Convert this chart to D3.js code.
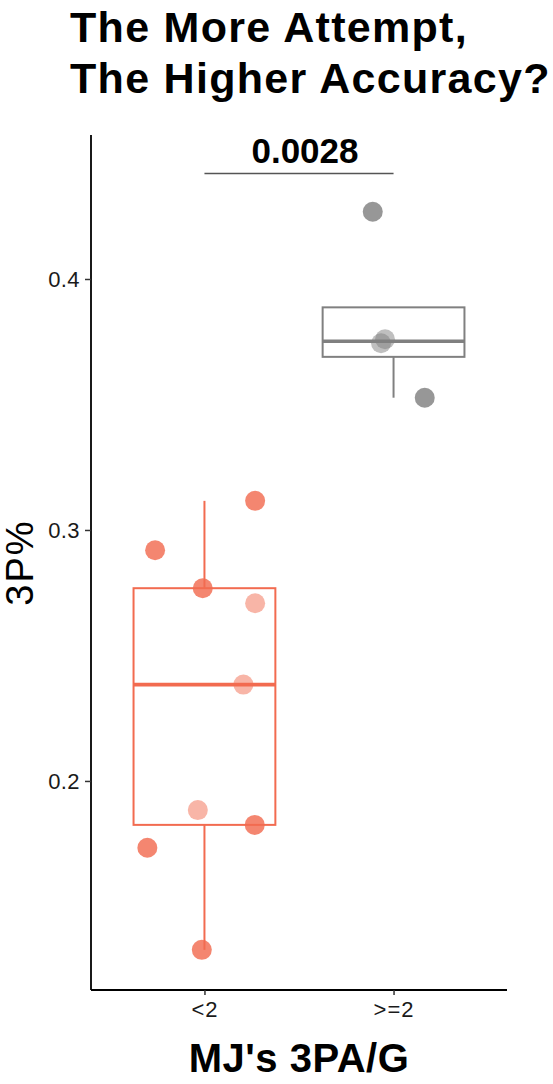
<!DOCTYPE html>
<html>
<head>
<meta charset="utf-8">
<script src="https://cdn.jsdelivr.net/npm/d3@7"></script>
<style>
  html, body { margin: 0; padding: 0; background: #fff; }
  svg { display: block; font-family: "Liberation Sans", Arial, sans-serif; }
</style>
</head>
<body>
<script>
// ---- data ----
const categories = ["<2", ">=2"];
const lowValues  = [0.3116, 0.2919, 0.2768, 0.2708, 0.2384, 0.1884, 0.1825, 0.1734, 0.1327];
const lowJitter  = [0.268, -0.261, -0.009, 0.268, 0.206, -0.035, 0.266, -0.302, -0.014];
const lowShade   = ["dark", "dark", "dark", "light", "light", "light", "dark", "dark", "dark"];
const highValues = [0.4268, 0.3760, 0.3744, 0.3527];
const highJitter = [-0.110, -0.045, -0.066, 0.165];
const highShade  = ["dark", "light", "light", "dark"];
const yTicks = [0.2, 0.3, 0.4];
const pLabel = "0.0028";
const titleLines = ["The More Attempt,", "The Higher Accuracy?"];
const xTitle = "MJ's 3PA/G";
const yTitle = "3P%";

// ---- layout ----
const W = 553, H = 1084;
const plot = { left: 91, right: 507, top: 135, bottom: 990 };
const colors = { "<2": "#F26B50", ">=2": "#808080" };
const shadeOpacity = d3.scaleOrdinal().domain(["dark", "light"]).range([0.82, 0.5]);

const svg = d3.select("body").append("svg").attr("width", W).attr("height", H);

const x = d3.scalePoint().domain(categories).range([plot.left, plot.right]).padding(0.6);
const step = x.step();
const y = d3.scaleLinear().domain([0.11671, 0.45737]).range([plot.bottom, plot.top]);

const groups = [
  { cat: "<2", values: lowValues, jitter: lowJitter, shade: lowShade },
  { cat: ">=2", values: highValues, jitter: highJitter, shade: highShade }
];

// title
svg.append("g").selectAll("text").data(titleLines).join("text")
  .attr("x", 70).attr("y", (d, i) => 42 + i * 51)
  .attr("font-size", 43).attr("font-weight", "bold").attr("letter-spacing", 1.3).attr("fill", "#000")
  .text(d => d);

// boxplots
const boxW = step * 0.75;
groups.forEach(g => {
  const s = g.values.slice().sort(d3.ascending);
  const q1 = d3.quantile(s, 0.25), med = d3.quantile(s, 0.5), q3 = d3.quantile(s, 0.75);
  const iqr = q3 - q1;
  const lo = d3.min(s.filter(v => v >= q1 - 1.5 * iqr));
  const hi = d3.max(s.filter(v => v <= q3 + 1.5 * iqr));
  const cx = x(g.cat), c = colors[g.cat];
  const bg = svg.append("g");
  if (hi > q3) bg.append("line").attr("x1", cx).attr("x2", cx).attr("y1", y(q3)).attr("y2", y(hi))
    .attr("stroke", c).attr("stroke-width", 2);
  if (lo < q1) bg.append("line").attr("x1", cx).attr("x2", cx).attr("y1", y(q1)).attr("y2", y(lo))
    .attr("stroke", c).attr("stroke-width", 2);
  bg.append("rect").attr("x", cx - boxW / 2).attr("y", y(q3)).attr("width", boxW).attr("height", y(q1) - y(q3))
    .attr("fill", "none").attr("stroke", c).attr("stroke-width", 2);
  bg.append("line").attr("x1", cx - boxW / 2).attr("x2", cx + boxW / 2).attr("y1", y(med)).attr("y2", y(med))
    .attr("stroke", c).attr("stroke-width", 3.6);
});

// jittered points
groups.forEach(g => {
  svg.append("g").selectAll("circle").data(g.values).join("circle")
    .attr("cx", (d, i) => x(g.cat) + g.jitter[i] * step)
    .attr("cy", d => y(d))
    .attr("r", 10)
    .attr("fill", colors[g.cat])
    .attr("fill-opacity", (d, i) => shadeOpacity(g.shade[i]));
});

// axes
const yAxis = svg.append("g").attr("transform", `translate(${plot.left},0)`)
  .call(d3.axisLeft(y).tickValues(yTicks).tickSize(6).tickPadding(5).tickFormat(d3.format(".1f")));
yAxis.select(".domain").attr("d", `M0,${plot.top}V${plot.bottom}`).attr("stroke", "#000").attr("stroke-width", 1.8);
yAxis.selectAll(".tick line").attr("stroke", "#333").attr("stroke-width", 1.5);
yAxis.selectAll(".tick text").attr("font-size", 22).attr("letter-spacing", 0.4).attr("fill", "#1a1a1a")
  .attr("font-family", "Liberation Sans, Arial, sans-serif");

const xAxis = svg.append("g").attr("transform", `translate(0,${plot.bottom})`)
  .call(d3.axisBottom(x).tickSize(5).tickPadding(6));
xAxis.select(".domain").attr("d", `M${plot.left},0H${plot.right}`).attr("stroke", "#000").attr("stroke-width", 1.8);
xAxis.selectAll(".tick line").attr("stroke", "#333").attr("stroke-width", 1.5);
xAxis.selectAll(".tick text").attr("font-size", 22).attr("letter-spacing", 1).attr("fill", "#1a1a1a")
  .attr("font-family", "Liberation Sans, Arial, sans-serif");

// axis titles
svg.append("text").attr("x", (plot.left + plot.right) / 2).attr("y", 1072)
  .attr("text-anchor", "middle").attr("font-size", 40).attr("font-weight", "bold").attr("letter-spacing", 0.5).text(xTitle);
svg.append("text").attr("transform", `translate(33,${(plot.top + plot.bottom) / 2}) rotate(-90)`)
  .attr("text-anchor", "middle").attr("font-size", 38).attr("letter-spacing", 2).text(yTitle);

// significance bracket
const by = 173.5;
svg.append("line").attr("x1", x(categories[0])).attr("x2", x(categories[1])).attr("y1", by).attr("y2", by)
  .attr("stroke", "#555").attr("stroke-width", 1.5);
svg.append("text").attr("x", (x(categories[0]) + x(categories[1])) / 2 + 6).attr("y", 163)
  .attr("text-anchor", "middle").attr("font-size", 35).attr("font-weight", "bold").text(pLabel);
</script>
</body>
</html>
